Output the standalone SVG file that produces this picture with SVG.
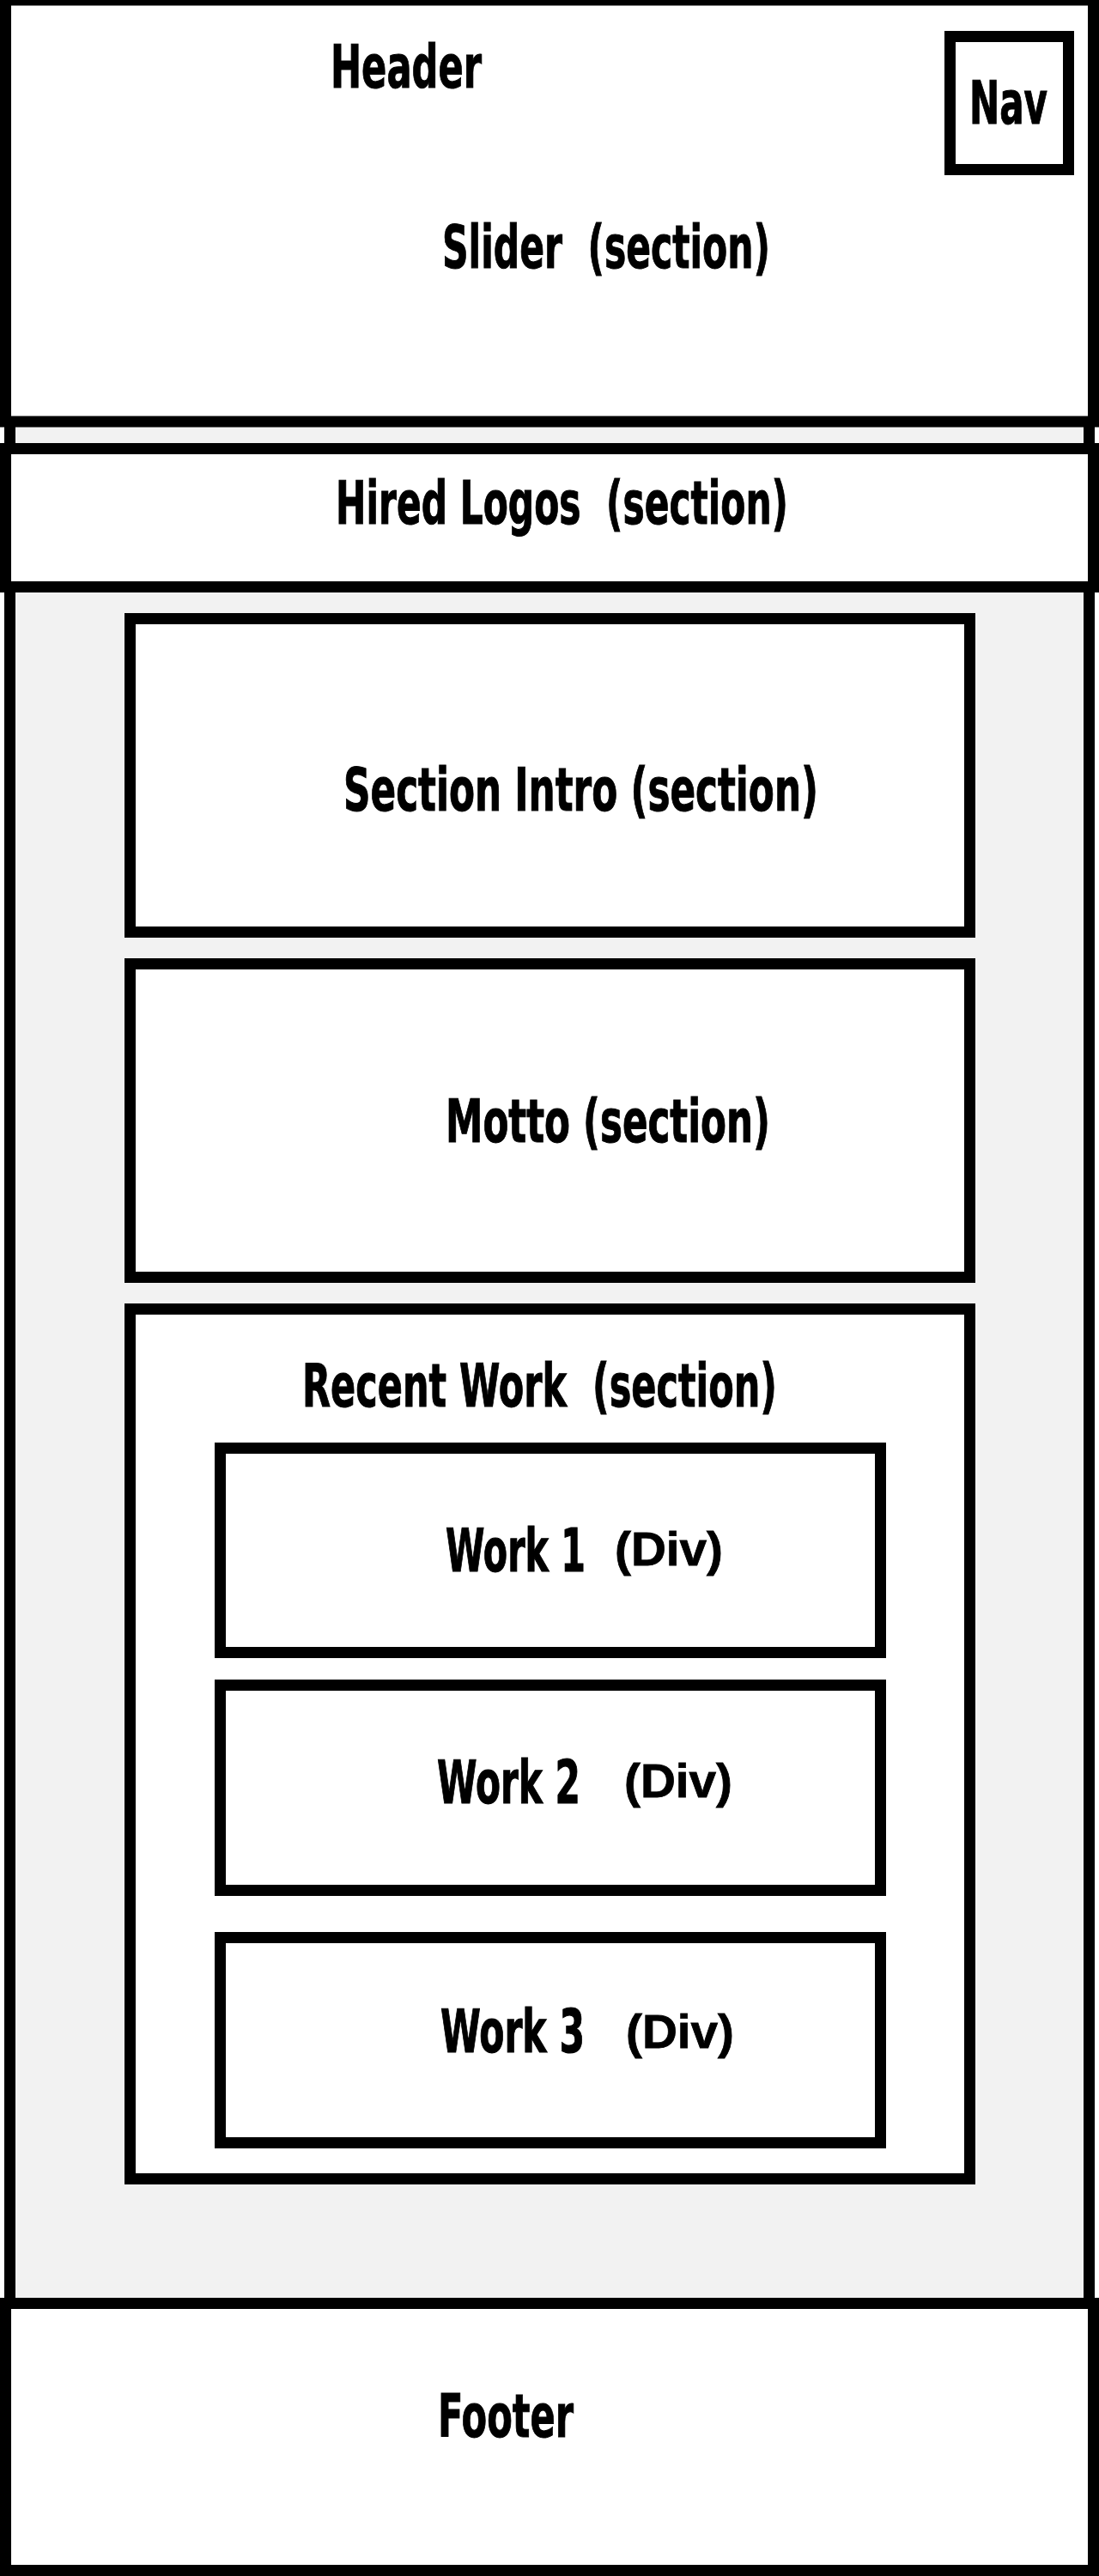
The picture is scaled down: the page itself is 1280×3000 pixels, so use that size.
<svg xmlns="http://www.w3.org/2000/svg" width="1280" height="3000" viewBox="0 0 1280 3000">
  <style>
    .box { fill: #ffffff; stroke: #000000; stroke-width: 13; }
    .container { fill: #f2f2f2; stroke: #000000; stroke-width: 13; }
    .lbl { font-family: "Liberation Sans Narrow", "DejaVu Sans Condensed", "Liberation Sans", sans-serif; font-weight: bold; font-size: 70px; fill: #000000; stroke: #000000; stroke-width: 1; white-space: pre; }
    .wk { font-family: "Liberation Sans Narrow", "DejaVu Sans Condensed", "Liberation Sans", sans-serif; font-weight: bold; font-size: 52px; fill: #000000; stroke: #000000; stroke-width: 0.8; }
    .div { font-family: "Liberation Sans", "DejaVu Sans", sans-serif; font-weight: bold; font-size: 56px; fill: #000000; stroke: #000000; stroke-width: 0.8; }
  </style>
  <rect x="0" y="0" width="1280" height="3000" fill="#ffffff"/>

  <g id="main-container">
    <rect class="container" x="11.5" y="300" width="1257" height="2390"/>
  </g>

  <g id="header">
    <rect class="box" x="6.5" y="0" width="1267" height="491"/>
    <text class="lbl" x="385" y="102" textLength="176" lengthAdjust="spacingAndGlyphs">Header</text>
  </g>

  <g id="slider">
    <text class="lbl" xml:space="preserve" x="515" y="312" textLength="382" lengthAdjust="spacingAndGlyphs">Slider  (section)</text>
  </g>

  <g id="nav">
    <rect class="box" x="1106.5" y="42.5" width="138" height="155"/>
    <text class="lbl" x="1129" y="144" textLength="91" lengthAdjust="spacingAndGlyphs">Nav</text>
  </g>

  <g id="hired-logos">
    <rect class="box" x="6.5" y="522.5" width="1267" height="161"/>
    <text class="lbl" xml:space="preserve" x="391" y="610" textLength="527" lengthAdjust="spacingAndGlyphs">Hired Logos  (section)</text>
  </g>

  <g id="section-intro">
    <rect class="box" x="151.5" y="720.5" width="978" height="365"/>
    <text class="lbl" x="400" y="944" textLength="553" lengthAdjust="spacingAndGlyphs">Section Intro (section)</text>
  </g>

  <g id="motto">
    <rect class="box" x="151.5" y="1122.5" width="978" height="365"/>
    <text class="lbl" x="519" y="1330" textLength="378" lengthAdjust="spacingAndGlyphs">Motto (section)</text>
  </g>

  <g id="recent-work">
    <rect class="box" x="151.5" y="1524.5" width="978" height="1013"/>
    <text class="lbl" xml:space="preserve" x="352" y="1638" textLength="553" lengthAdjust="spacingAndGlyphs">Recent Work  (section)</text>
  </g>

  <g id="work-1">
    <rect class="box" x="256.5" y="1686.5" width="769" height="238"/>
    <text class="wk" x="519" y="1830" transform="matrix(1 0 0 1.346 0 -633.18)" textLength="163" lengthAdjust="spacingAndGlyphs">Work 1</text>
    <text class="div" x="716" y="1823" textLength="126" lengthAdjust="spacingAndGlyphs">(Div)</text>
  </g>

  <g id="work-2">
    <rect class="box" x="256.5" y="1962.5" width="769" height="239"/>
    <text class="wk" x="509" y="2100" transform="matrix(1 0 0 1.346 0 -726.6)" textLength="167" lengthAdjust="spacingAndGlyphs">Work 2</text>
    <text class="div" x="727" y="2093" textLength="126" lengthAdjust="spacingAndGlyphs">(Div)</text>
  </g>

  <g id="work-3">
    <rect class="box" x="256.5" y="2256.5" width="769" height="239"/>
    <text class="wk" x="513" y="2390" transform="matrix(1 0 0 1.346 0 -826.94)" textLength="168" lengthAdjust="spacingAndGlyphs">Work 3</text>
    <text class="div" x="729" y="2385" textLength="126" lengthAdjust="spacingAndGlyphs">(Div)</text>
  </g>

  <g id="footer">
    <rect class="box" x="6.5" y="2682.5" width="1267" height="311"/>
    <text class="lbl" x="510" y="2838" textLength="158" lengthAdjust="spacingAndGlyphs">Footer</text>
  </g>

  <g id="connectors"></g>
</svg>
